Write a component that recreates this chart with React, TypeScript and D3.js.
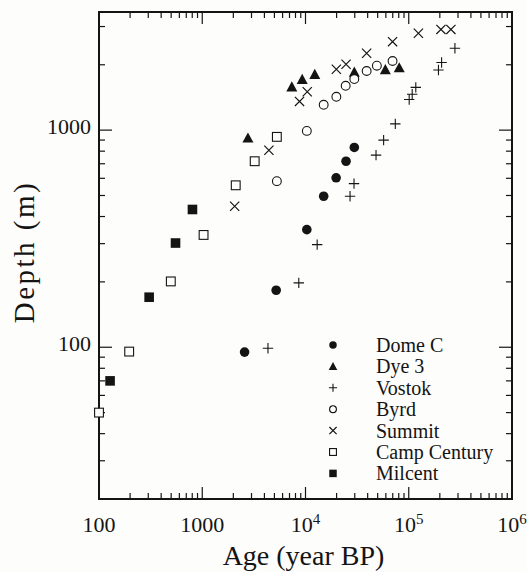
import React, { useRef, useEffect } from "react";
import * as d3 from "d3";

// age (year BP), depth (m)
const domeC = [[2570, 95], [5200, 183], [10300, 348], [15000, 496], [19800, 603], [24700, 719], [29700, 832]];
const dye3 = [[2770, 921], [7370, 1584], [9290, 1714], [12300, 1807], [29700, 1852], [59300, 1902], [80900, 1939]];
const vostok = [[4330, 99], [8610, 198], [12970, 297], [27000, 496], [29500, 567], [48200, 767], [57100, 899], [74100, 1069], [101000, 1383], [108000, 1463], [117000, 1574], [194000, 1892], [208000, 2048], [280000, 2383]];
const byrd = [[5280, 582], [10300, 992], [15000, 1308], [19900, 1424], [24500, 1600], [29700, 1719], [39100, 1872], [49100, 1980], [69700, 2082]];
const summit = [[2060, 446], [4420, 808], [8750, 1356], [10400, 1502], [19900, 1908], [24700, 2010], [39100, 2259], [69700, 2555], [124000, 2794], [205000, 2909], [256000, 2909]];
const campCentury = [[100, 50], [196, 95.5], [496, 201], [1030, 329], [2110, 557], [3220, 719], [5280, 931]];
const milcent = [[128, 70], [306, 170], [551, 302], [804, 431]];

const seriesNames = ["Dome C", "Dye 3", "Vostok", "Byrd", "Summit", "Camp Century", "Milcent"];
const seriesData = [domeC, dye3, vostok, byrd, summit, campCentury, milcent];
const seriesMarks = ["dot", "tri", "plus", "circle", "cross", "square", "box"];

const xTickLabels = ["100", "1000", "10^4", "10^5", "10^6"];
const yTickLabels = ["100", "1000"];

const INK = "#141414";
const FONT = "Liberation Serif";

// draws one marker centred at 0,0 into g, s = size factor
function drawMark(g, kind, s) {
  if (kind === "dot") g.append("circle").attr("r", 4.8 * s).attr("fill", INK);
  if (kind === "circle") g.append("circle").attr("r", 4.4 * s).attr("fill", "#fdfdfb").attr("stroke", INK).attr("stroke-width", 1.1);
  if (kind === "tri") {
    const h = 5.5 * s;
    g.append("path").attr("d", `M0,${-h}L${h},${h * 0.85}L${-h},${h * 0.85}Z`).attr("fill", INK);
  }
  if (kind === "square") {
    const h = 4.4 * s;
    g.append("rect").attr("x", -h).attr("y", -h).attr("width", 2 * h).attr("height", 2 * h)
      .attr("fill", "#fdfdfb").attr("stroke", INK).attr("stroke-width", 1.1);
  }
  if (kind === "box") {
    const h = 4.8 * s;
    g.append("rect").attr("x", -h).attr("y", -h).attr("width", 2 * h).attr("height", 2 * h).attr("fill", INK);
  }
  if (kind === "plus") {
    const h = 5.2 * s;
    g.append("path").attr("d", `M${-h},0H${h}M0,${-h}V${h}`).attr("stroke", INK).attr("stroke-width", 1.1);
  }
  if (kind === "cross") {
    const h = 4.6 * s;
    g.append("path").attr("d", `M${-h},${-h}L${h},${h}M${-h},${h}L${h},${-h}`).attr("stroke", INK).attr("stroke-width", 1.2);
  }
}

const DepthAgeChart = ({ width, height, margin }) => {
  const svgRef = useRef(null);

  useEffect(() => {
    const svg = d3.select(svgRef.current);
    svg.selectAll("*").remove();

    const x = d3.scaleLog().domain([100, 1e6]).range([margin.left, width - margin.right]);
    const y = d3.scaleLog().domain([20, 3500]).range([height - margin.bottom, margin.top]);
    const [x0, x1] = x.range();
    const [y0, y1] = y.range();

    svg.append("rect").attr("width", width).attr("height", height).attr("fill", "#fdfdfb");

    const isMajor = (v) => Math.abs(Math.log10(v) - Math.round(Math.log10(v))) < 1e-9;

    // ticks, all pointing inward
    const axes = svg.append("g").attr("stroke", INK);
    x.ticks().forEach((v) => {
      const len = isMajor(v) ? 12 : 6;
      const px = x(v);
      axes.append("line").attr("x1", px).attr("x2", px).attr("y1", y0).attr("y2", y0 - len).attr("stroke-width", 1.2);
      axes.append("line").attr("x1", px).attr("x2", px).attr("y1", y1).attr("y2", y1 + len).attr("stroke-width", 1.2);
    });
    y.ticks().forEach((v) => {
      const len = isMajor(v) ? 13 : 6;
      const py = y(v);
      axes.append("line").attr("x1", x0).attr("x2", x0 + len).attr("y1", py).attr("y2", py).attr("stroke-width", 1.2);
      axes.append("line").attr("x1", x1).attr("x2", x1 - len).attr("y1", py).attr("y2", py).attr("stroke-width", 1.2);
    });
    svg.append("rect").attr("x", x0).attr("y", y1).attr("width", x1 - x0).attr("height", y0 - y1)
      .attr("fill", "none").attr("stroke", INK).attr("stroke-width", 2);

    // x tick labels
    xTickLabels.forEach((lab, i) => {
      const t = svg.append("text").attr("x", x(100 * 10 ** i)).attr("y", y0 + 33)
        .attr("text-anchor", "middle").style("font-family", FONT).attr("font-size", 22).attr("fill", INK);
      if (lab.includes("^")) {
        const [base, exp] = lab.split("^");
        t.append("tspan").text(base);
        t.append("tspan").attr("dy", -8).attr("font-size", 15).text(exp);
      } else t.text(lab);
    });

    // y tick labels
    yTickLabels.forEach((lab) => {
      svg.append("text").attr("x", x0 - 8).attr("y", y(+lab) + 4)
        .attr("text-anchor", "end").style("font-family", FONT).attr("font-size", 22).attr("fill", INK).text(lab);
    });

    // axis titles
    svg.append("text").attr("x", (x0 + x1) / 2 - 2).attr("y", 565).attr("text-anchor", "middle")
      .style("font-family", FONT).attr("font-size", 28).attr("fill", INK).text("Age (year BP)");
    svg.append("text").attr("transform", `translate(34, 252) rotate(-90)`).attr("text-anchor", "middle")
      .style("font-family", FONT).attr("font-size", 29).attr("letter-spacing", 2.5).attr("fill", INK).text("Depth (m)");

    // points
    seriesData.forEach((data, i) => {
      data.forEach((d) => {
        const g = svg.append("g").attr("transform", `translate(${x(d[0])},${y(d[1])})`);
        drawMark(g, seriesMarks[i], 1);
      });
    });

    // legend
    seriesNames.forEach((name, i) => {
      const ly = 345 + i * 21.4;
      const g = svg.append("g").attr("transform", `translate(333,${ly})`);
      drawMark(g, seriesMarks[i], 0.78);
      svg.append("text").attr("x", 376).attr("y", ly + 7).style("font-family", FONT)
        .attr("font-size", 20).attr("fill", INK).text(name);
    });
  }, [width, height, margin]);

  return <svg ref={svgRef} width={width} height={height} style={{ display: "block" }}></svg>;
};

export default function App() {
  return (
    <div style={{ position: "absolute", left: 0, top: 0 }}>
      <DepthAgeChart width={527} height={572} margin={{ top: 12, right: 15, bottom: 73, left: 99 }} />
    </div>
  );
}
